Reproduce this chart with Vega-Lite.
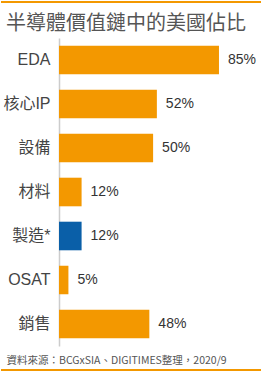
{
  "$schema": "https://vega.github.io/schema/vega-lite/v6.json",
  "padding": {"left": 1, "top": 1, "right": 1, "bottom": 2},
  "background": "white",
  "config": {
    "view": {"stroke": null},
    "font": "Liberation Sans, Noto Sans CJK TC"
  },
  "spacing": 11,
  "vconcat": [
    {
      "width": 260,
      "height": 2,
      "data": {"values": [{"a": 0, "b": 1}]},
      "mark": {"type": "rect", "color": "#F39800"},
      "encoding": {
        "x": {"field": "a", "type": "quantitative", "scale": {"domain": [0, 1]}, "axis": null},
        "x2": {"field": "b"},
        "y": {"field": "a", "type": "quantitative", "scale": {"domain": [0, 1]}, "axis": null},
        "y2": {"field": "b"}
      }
    },
    {
      "spacing": 3,
      "vconcat": [
        {
          "width": 261,
          "height": 308,
          "title": {
            "text": "半導體價值鏈中的美國佔比",
            "anchor": "start",
            "frame": "group",
            "dx": 5,
            "fontSize": 20,
            "fontWeight": "normal",
            "color": "#555555",
            "offset": 4,
            "font": "Noto Sans CJK TC"
          },
          "data": {
            "values": [
              {"item": "EDA", "share": 0.85, "group": "other"},
              {"item": "核心IP", "share": 0.52, "group": "other"},
              {"item": "設備", "share": 0.50, "group": "other"},
              {"item": "材料", "share": 0.12, "group": "other"},
              {"item": "製造*", "share": 0.12, "group": "manufacturing"},
              {"item": "OSAT", "share": 0.05, "group": "other"},
              {"item": "銷售", "share": 0.48, "group": "other"}
            ]
          },
          "encoding": {
            "y": {
              "field": "item",
              "type": "nominal",
              "sort": null,
              "scale": {"paddingInner": 0.35, "paddingOuter": 0.175},
              "axis": {
                "title": null,
                "offset": -58,
                "domainColor": "#cccccc",
                "domainWidth": 1.5,
                "ticks": false,
                "labelPadding": 9,
                "labelFontSize": 16,
                "labelColor": "#444444"
              }
            },
            "x": {
              "field": "share",
              "type": "quantitative",
              "scale": {"domain": [-0.3082, 1.0786]},
              "axis": {
                "title": "資料來源：BCGxSIA、DIGITIMES整理，2020/9",
                "labels": false,
                "ticks": false,
                "domain": false,
                "grid": false,
                "titleX": 5,
                "titleAlign": "left",
                "titleAnchor": "start",
                "titleFont": "Noto Sans CJK TC",
                "titleFontSize": 10.5,
                "titleFontWeight": "normal",
                "titleColor": "#555555",
                "titlePadding": 9,
                "titleBaseline": "top"
              }
            }
          },
          "layer": [
            {
              "mark": {"type": "bar"},
              "encoding": {
                "color": {
                  "field": "group",
                  "type": "nominal",
                  "scale": {"domain": ["other", "manufacturing"], "range": ["#F39800", "#0A5FA8"]},
                  "legend": null
                }
              }
            },
            {
              "mark": {"type": "text", "align": "left", "baseline": "middle", "dx": 9, "fontSize": 14, "color": "#333333"},
              "encoding": {
                "text": {"field": "share", "type": "quantitative", "format": ".0%"}
              }
            }
          ]
        },
        {
          "width": 260,
          "height": 2,
          "data": {"values": [{"a": 0, "b": 1}]},
          "mark": {"type": "rect", "color": "#F39800"},
          "encoding": {
            "x": {"field": "a", "type": "quantitative", "scale": {"domain": [0, 1]}, "axis": null},
            "x2": {"field": "b"},
            "y": {"field": "a", "type": "quantitative", "scale": {"domain": [0, 1]}, "axis": null},
            "y2": {"field": "b"}
          }
        }
      ]
    }
  ]
}
